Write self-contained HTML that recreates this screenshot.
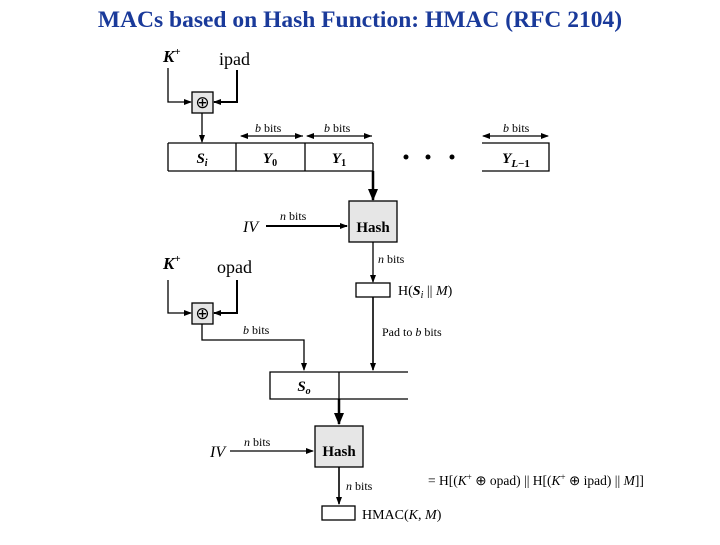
<!DOCTYPE html>
<html><head><meta charset="utf-8"><style>
body{margin:0;background:#fff;width:720px;height:540px;overflow:hidden}
svg text{font-family:"Liberation Serif",serif}
</style></head><body>
<svg width="720" height="540" viewBox="0 0 720 540">
<defs>
<marker id="a" markerWidth="8" markerHeight="6" refX="7" refY="3" orient="auto" markerUnits="userSpaceOnUse"><path d="M0,0L8,3L0,6z" fill="#000"/></marker>
<marker id="b" markerWidth="12" markerHeight="10" refX="11" refY="5" orient="auto" markerUnits="userSpaceOnUse"><path d="M0,0L12,5L0,10z" fill="#000"/></marker>
</defs>
<text x="360" y="27" text-anchor="middle" font-size="23.5" font-weight="bold" fill="#1a3a9a">MACs based on Hash Function: HMAC (RFC 2104)</text>
<g stroke="#000" fill="none" stroke-width="1.3">
<rect x="192" y="92" width="21" height="21" fill="#e6e6e6"/>
<path d="M168,68V102H191" marker-end="url(#a)"/>
<path d="M237,70V102H214" stroke-width="2" marker-end="url(#a)"/>
<path d="M202,113V142" marker-end="url(#a)"/>
<path d="M168,143H373M168,171H373M168,143V171M236,143V171M305,143V171M373,143V171"/>
<path d="M482,143H549V171H482"/>
<path d="M241,136H303M307,136H372M483,136H548"/>
<path d="M373,171V200" stroke-width="2.5" marker-end="url(#b)"/>
<rect x="349" y="201" width="48" height="41" fill="#e6e6e6"/>
<path d="M266,226H347" stroke-width="2" marker-end="url(#a)"/>
<path d="M373,242V282" marker-end="url(#a)"/>
<rect x="356" y="283" width="34" height="14"/>
<path d="M373,297V370" stroke-width="1.6" marker-end="url(#a)"/>
<rect x="192" y="303" width="21" height="21" fill="#e6e6e6"/>
<path d="M168,280V313H191" marker-end="url(#a)"/>
<path d="M237,280V313H214" stroke-width="2" marker-end="url(#a)"/>
<path d="M202,324V340H304V370" marker-end="url(#a)"/>
<path d="M408,372H270V399H408M339,372V399"/>
<path d="M339,399V424" stroke-width="2.5" marker-end="url(#b)"/>
<rect x="315" y="426" width="48" height="41" fill="#e6e6e6"/>
<path d="M230,451H313" marker-end="url(#a)"/>
<path d="M339,467V504" stroke-width="1.6" marker-end="url(#a)"/>
<rect x="322" y="506" width="33" height="14"/>
</g>
<g fill="#000">
<path d="M240,136l8,-3v6zM303,136l-8,-3v6zM306,136l8,-3v6zM372,136l-8,-3v6zM482,136l8,-3v6zM549,136l-8,-3v6z"/>
<circle cx="406" cy="157" r="2.5"/><circle cx="428" cy="157" r="2.5"/><circle cx="452" cy="157" r="2.5"/>
<text x="163" y="62" font-size="17" font-weight="bold" font-style="italic">K<tspan font-size="11" dy="-7" font-style="normal">+</tspan></text>
<text x="219" y="65" font-size="18">ipad</text>
<text x="202.5" y="108" font-size="17" text-anchor="middle">⊕</text>
<text x="255" y="132" font-size="12"><tspan font-style="italic">b</tspan> bits</text>
<text x="324" y="132" font-size="12"><tspan font-style="italic">b</tspan> bits</text>
<text x="503" y="132" font-size="12"><tspan font-style="italic">b</tspan> bits</text>
<text x="202" y="163" font-size="15" font-weight="bold" font-style="italic" text-anchor="middle">S<tspan font-size="10" dy="3">i</tspan></text>
<text x="270" y="163" font-size="15" font-weight="bold" font-style="italic" text-anchor="middle">Y<tspan font-size="10" dy="3" font-style="normal">0</tspan></text>
<text x="339" y="163" font-size="15" font-weight="bold" font-style="italic" text-anchor="middle">Y<tspan font-size="10" dy="3" font-style="normal">1</tspan></text>
<text x="516" y="163" font-size="15" font-weight="bold" font-style="italic" text-anchor="middle">Y<tspan font-size="11" dy="4">L</tspan><tspan font-size="11" font-style="normal">−1</tspan></text>
<text x="243" y="232" font-size="16" font-style="italic">IV</text>
<text x="280" y="220" font-size="12"><tspan font-style="italic">n</tspan> bits</text>
<text x="373" y="232" font-size="15" font-weight="bold" text-anchor="middle">Hash</text>
<text x="378" y="263" font-size="12"><tspan font-style="italic">n</tspan> bits</text>
<text x="398" y="295" font-size="14">H(<tspan font-style="italic" font-weight="bold">S</tspan><tspan font-size="10" font-style="italic" dy="3">i</tspan><tspan dy="-3"> || </tspan><tspan font-style="italic">M</tspan>)</text>
<text x="382" y="336" font-size="12">Pad to <tspan font-style="italic">b</tspan> bits</text>
<text x="163" y="269" font-size="17" font-weight="bold" font-style="italic">K<tspan font-size="11" dy="-7" font-style="normal">+</tspan></text>
<text x="217" y="273" font-size="18">opad</text>
<text x="202.5" y="319" font-size="17" text-anchor="middle">⊕</text>
<text x="243" y="334" font-size="12"><tspan font-style="italic">b</tspan> bits</text>
<text x="304" y="391" font-size="15" font-weight="bold" font-style="italic" text-anchor="middle">S<tspan font-size="10" dy="3">o</tspan></text>
<text x="210" y="457" font-size="16" font-style="italic">IV</text>
<text x="244" y="446" font-size="12"><tspan font-style="italic">n</tspan> bits</text>
<text x="339" y="456" font-size="15" font-weight="bold" text-anchor="middle">Hash</text>
<text x="346" y="490" font-size="12"><tspan font-style="italic">n</tspan> bits</text>
<text x="362" y="519" font-size="14">HMAC(<tspan font-style="italic">K</tspan>, <tspan font-style="italic">M</tspan>)</text>
<text x="428" y="485" font-size="13.5">=   H[(<tspan font-style="italic">K</tspan><tspan font-size="9" dy="-5">+</tspan><tspan dy="5"> ⊕ opad) || H[(</tspan><tspan font-style="italic">K</tspan><tspan font-size="9" dy="-5">+</tspan><tspan dy="5"> ⊕ ipad) || </tspan><tspan font-style="italic">M</tspan>]]</text>
</g>
</svg>
</body></html>
